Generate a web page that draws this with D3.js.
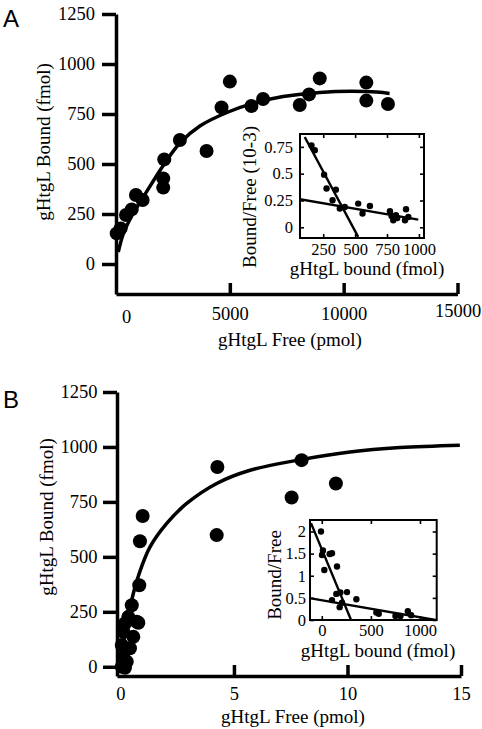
<!DOCTYPE html>
<html>
<head>
<meta charset="utf-8">
<script src="https://cdn.jsdelivr.net/npm/d3@7"></script>
<style>
  html, body { margin: 0; padding: 0; background: #fff; }
  svg { display: block; }
</style>
</head>
<body>
<svg id="chart" width="482" height="729"></svg>
<script>
// ---------------- DATA ----------------
// Panel A main: gHtgL Free (pmol) vs gHtgL Bound (fmol)
const freeA  = [30, 205, 440, 690, 877, 1170, 2120, 2075, 2075, 2807, 3977, 4635, 5000, 5950, 6460, 8070, 8480, 8950, 10995, 10995, 11945];
const boundA = [153, 178, 245, 273, 345, 320, 523, 428, 382, 620, 565, 783, 912, 790, 825, 795, 848, 928, 907, 817, 800];
const fitAx  = [100, 320, 690, 1200, 2120, 2807, 3684, 4925, 6020, 7340, 8950, 10995, 12017];
const fitAy  = [60, 150, 240, 335, 500, 605, 690, 760, 803, 837, 858, 862, 853];
const xTicksA = [0, 5000, 10000, 15000];
const yTicksA = [0, 250, 500, 750, 1000, 1250];

// Panel A inset (Scatchard)
const boundIA = [158, 184, 257, 276, 349, 323, 380, 419, 524, 558, 616, 773, 786, 799, 820, 830, 899, 891, 917];
const ratioIA = [0.764, 0.718, 0.491, 0.361, 0.351, 0.252, 0.174, 0.189, 0.221, 0.128, 0.199, 0.149, 0.105, 0.065, 0.112, 0.087, 0.168, 0.065, 0.096];
const steepIAx = [105, 524],  steepIAy = [0.842, -0.09];
const shallowIAx = [66, 995], shallowIAy = [0.261, 0.072];
const xTicksIA = [250, 500, 750, 1000];
const yTicksIA = [0, 0.25, 0.5, 0.75];

// Panel B main
const freeB  = [4.27, 7.98, 9.49, 7.54, 4.24, 0.98, 0.86, 0.83, 0.50, 0.35, 0.79, 0.72, 0.20, 0.13, 0.57, 0.06, 0.42, 0.13, 0.28, 0.06, 0.20];
const boundB = [909, 940, 834, 770, 599, 686, 571, 371, 280, 227, 200, 205, 197, 159, 136, 99, 84, 45, 23, 0, -5];
const fitBx  = [0, 0.1, 0.3, 0.5, 0.83, 1.3, 2.04, 2.92, 4.24, 5.71, 7.98, 10.11, 12.31, 14.95];
const fitBy  = [0, 80, 205, 305, 425, 544, 652, 743, 834, 894, 943, 977, 997, 1008];
const xTicksB = [0, 5, 10, 15];
const yTicksB = [0, 250, 500, 750, 1000, 1250];

// Panel B inset
const boundIB = [-8, 12, 2, 80, 104, 26, 155, 148, 189, 257, 104, 206, 182, 352, 556, 580, 750, 801, 876, 910];
const ratioIB = [2.0, 1.57, 1.47, 1.49, 1.51, 1.13, 1.21, 0.59, 0.62, 0.63, 0.45, 0.39, 0.29, 0.47, 0.17, 0.14, 0.09, 0.09, 0.2, 0.11];
const steepIBx = [-110, 298],  steepIBy = [2.19, 0];
const shallowIBx = [-110, 1158], shallowIBy = [0.49, 0];
const xTicksIB = [0, 500, 1000];
const yTicksIB = [0, 0.5, 1, 1.5, 2];

// ---------------- DRAW ----------------
const SERIF = "'Liberation Serif', 'Times New Roman', 'DejaVu Serif', serif";
const SANS = "'Liberation Sans', Arial, sans-serif";
const svg = d3.select("#chart");
svg.append("rect").attr("width", 482).attr("height", 729).attr("fill", "#fff");

const zip = (a, b) => a.map((v, i) => [v, b[i]]);

function styleAxis(g, sw, fs) {
  g.select(".domain").attr("stroke", "#000").attr("stroke-width", sw);
  g.selectAll(".tick line").attr("stroke", "#000").attr("stroke-width", sw);
  g.selectAll(".tick text").attr("fill", "#000").style("font-family", SERIF).style("font-size", fs + "px");
}

function mainPanel(o) {
  const g = svg.append("g");
  const x = d3.scaleLinear().domain(o.xDom).range(o.xRange);
  const y = d3.scaleLinear().domain(o.yDom).range(o.yRange);

  const ya = g.append("g").attr("transform", `translate(${o.xRange[0]},0)`)
    .call(d3.axisLeft(y).tickValues(o.yTicks).tickSize(14).tickSizeOuter(0).tickPadding(o.yPad).tickFormat(d3.format("d")));
  styleAxis(ya, 3.5, 18.5);
  const xa = g.append("g").attr("transform", `translate(0,${o.yRange[0]})`)
    .call(d3.axisBottom(x).tickValues(o.xTicks).tickSize(-11).tickSizeOuter(0).tickPadding(o.xPad).tickFormat(d3.format("d")));
  styleAxis(xa, 3.5, 18.5);
  xa.selectAll(".tick line").filter(d => d === o.xTicks[0]).remove();
  if (o.xLabelAdjust) o.xLabelAdjust(xa);

  g.append("path").datum(zip(o.fitX, o.fitY))
    .attr("fill", "none").attr("stroke", "#000").attr("stroke-width", 3.5)
    .attr("d", d3.line().x(d => x(d[0])).y(d => y(d[1])).curve(d3.curveCatmullRom));
  g.append("g").selectAll("circle").data(zip(o.px, o.py)).join("circle")
    .attr("cx", d => x(d[0])).attr("cy", d => y(d[1])).attr("r", 7).attr("fill", "#000");

  g.append("text").attr("x", o.xTitle[0]).attr("y", o.xTitle[1]).attr("text-anchor", "middle")
    .style("font-family", SERIF).style("font-size", "19px").text("gHtgL Free (pmol)");
  g.append("text").attr("transform", `translate(${o.yTitle[0]},${o.yTitle[1]}) rotate(-90)`).attr("text-anchor", "middle")
    .style("font-family", SERIF).style("font-size", "19px").text("gHtgL Bound (fmol)");
  g.append("text").attr("x", 3).attr("y", o.letterY).style("font-family", SANS).style("font-size", "24px").text(o.letter);
}

function inset(o) {
  const g = svg.append("g");
  const [x0, x1] = o.xRange, [y1, y0] = o.yRange;
  const x = d3.scaleLinear().domain(o.xDom).range(o.xRange);
  const y = d3.scaleLinear().domain(o.yDom).range(o.yRange);
  const id = "clip" + o.id;
  svg.append("clipPath").attr("id", id).append("rect")
    .attr("x", x0).attr("y", y0).attr("width", x1 - x0).attr("height", y1 - y0);
  g.append("rect").attr("x", x0).attr("y", y0).attr("width", x1 - x0).attr("height", y1 - y0)
    .attr("fill", "#fff");

  const fmt = d => String(d);
  const l = g.append("g").attr("transform", `translate(${x0},0)`)
    .call(d3.axisLeft(y).tickValues(o.yTicks).tickSize(-4).tickSizeOuter(0).tickPadding(o.yPad).tickFormat(fmt));
  const r = g.append("g").attr("transform", `translate(${x1},0)`)
    .call(d3.axisRight(y).tickValues(o.yTicks).tickSize(-4).tickSizeOuter(0).tickFormat(""));
  const b = g.append("g").attr("transform", `translate(0,${y1})`)
    .call(d3.axisBottom(x).tickValues(o.xTicks).tickSize(-4).tickSizeOuter(0).tickPadding(o.xPad).tickFormat(fmt));
  const t = g.append("g").attr("transform", `translate(0,${y0})`)
    .call(d3.axisTop(x).tickValues(o.xTicks).tickSize(-4).tickSizeOuter(0).tickFormat(""));
  [l, r, b, t].forEach(a => { styleAxis(a, 1.6, 16.5); a.select(".domain").remove(); });

  const c = g.append("g").attr("clip-path", `url(#${id})`);
  const line = d3.line().x(d => x(d[0])).y(d => y(d[1]));
  c.append("path").datum(zip(o.steepX, o.steepY)).attr("fill", "none").attr("stroke", "#000").attr("stroke-width", 2.4).attr("d", line);
  c.append("path").datum(zip(o.shallowX, o.shallowY)).attr("fill", "none").attr("stroke", "#000").attr("stroke-width", 2.4).attr("d", line);
  c.append("g").selectAll("circle").data(zip(o.px, o.py)).join("circle")
    .attr("cx", d => x(d[0])).attr("cy", d => y(d[1])).attr("r", 3.2).attr("fill", "#000");

  g.append("rect").attr("x", x0).attr("y", y0).attr("width", x1 - x0).attr("height", y1 - y0)
    .attr("fill", "none").attr("stroke", "#000").attr("stroke-width", 2);

  g.append("text").attr("x", o.xTitle[0]).attr("y", o.xTitle[1]).attr("text-anchor", "middle")
    .style("font-family", SERIF).style("font-size", "19px").text("gHtgL bound (fmol)");
  g.append("text").attr("transform", `translate(${o.yTitle[0]},${o.yTitle[1]}) rotate(-90)`).attr("text-anchor", "middle")
    .style("font-family", SERIF).style("font-size", "19px").text(o.yLabel);
}

// Panel A
mainPanel({
  xDom: [0, 15000], xRange: [116, 457.5],
  yDom: [-150, 1250], yRange: [294, 14],
  xTicks: xTicksA, yTicks: yTicksA, yPad: 7, xPad: 13,
  fitX: fitAx, fitY: fitAy, px: freeA, py: boundA,
  xTitle: [290, 346], yTitle: [50, 142], letter: "A", letterY: 27,
  xLabelAdjust: xa => {
    xa.selectAll(".tick text").attr("dx", d => d === 0 ? 10 : 0)
      .attr("y", d => d === 0 ? 16 : (d === 15000 ? 10 : 13));
  }
});
inset({
  id: "A", xDom: [68, 1040], xRange: [300, 424], yDom: [-0.1, 0.87], yRange: [238, 134],
  xTicks: xTicksIA, yTicks: yTicksIA, yPad: 7, xPad: 5,
  steepX: steepIAx, steepY: steepIAy, shallowX: shallowIAx, shallowY: shallowIAy,
  px: boundIA, py: ratioIA, xTitle: [367, 275], yTitle: [256, 197], yLabel: "Bound/Free (10-3)"
});

// Panel B
mainPanel({
  xDom: [-0.15, 15], xRange: [117, 461],
  yDom: [-42, 1250], yRange: [676, 392],
  xTicks: xTicksB, yTicks: yTicksB, yPad: 5.5, xPad: 11,
  fitX: fitBx, fitY: fitBy, px: freeB, py: boundB,
  xTitle: [293, 723], yTitle: [53, 517], letter: "B", letterY: 408
});
inset({
  id: "B", xDom: [-120, 1170], xRange: [310, 436.7], yDom: [0, 2.26], yRange: [620, 520],
  xTicks: xTicksIB, yTicks: yTicksIB, yPad: 4, xPad: 4,
  steepX: steepIBx, steepY: steepIBy, shallowX: shallowIBx, shallowY: shallowIBy,
  px: boundIB, py: ratioIB, xTitle: [378, 657], yTitle: [281, 575], yLabel: "Bound/Free"
});
</script>
</body>
</html>
